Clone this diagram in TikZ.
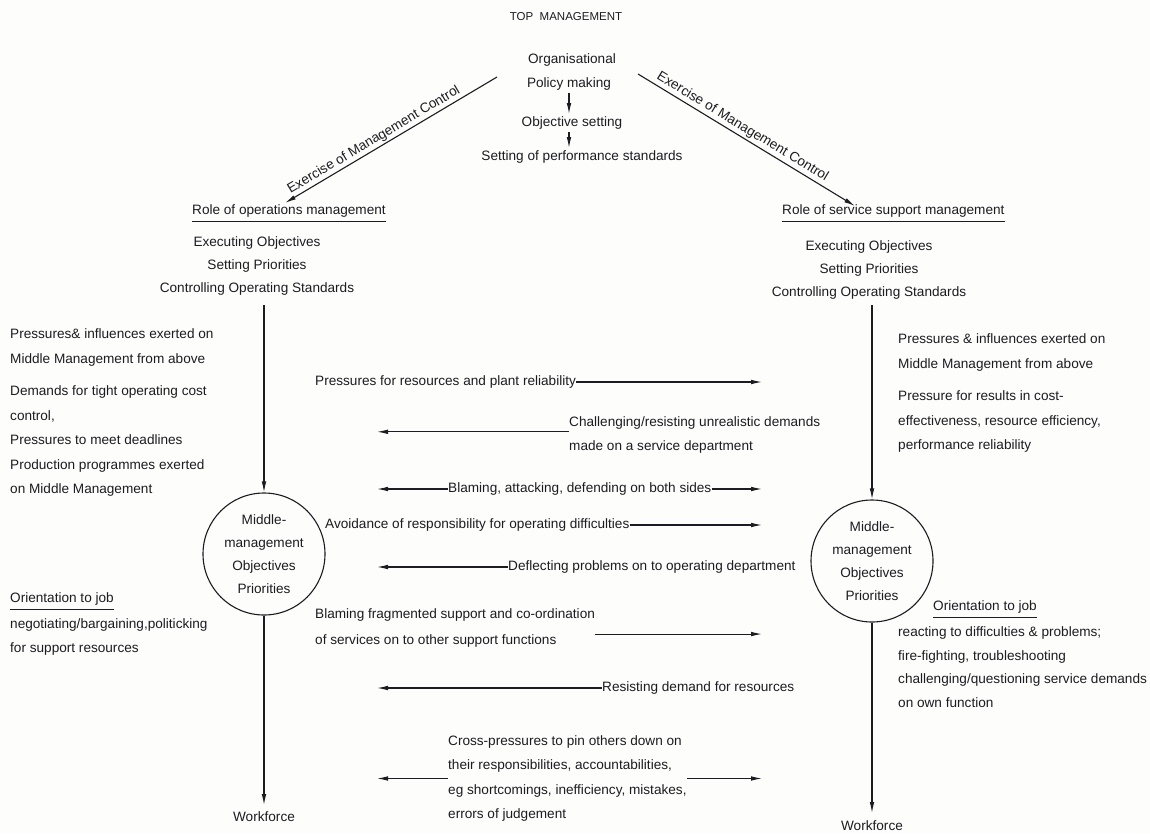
\documentclass[tikz,border=0pt]{standalone}
\usepackage{fontspec}
\setmainfont{Liberation Sans}
\usetikzlibrary{arrows.meta}
\definecolor{ink}{RGB}{28,28,34}
\definecolor{paper}{RGB}{253,253,251}
\begin{document}
\begin{tikzpicture}[x=1pt,y=-1pt,
  every node/.style={inner sep=0pt, text=ink, font=\fontsize{13.6}{24.5}\selectfont},
  lbl/.style={text height=10pt, text depth=3pt},
  para/.style={align=left, anchor=north west},
  conn/.style={draw=ink, line width=1.1pt, -{Latex[length=11pt,width=4.6pt]}},
  uline/.style={draw=ink, line width=1pt},
  mm/.style={circle, draw=ink, line width=1.1pt, minimum size=122pt, align=center,
             font=\fontsize{13.6}{23}\selectfont},
  roles/.style={align=center, font=\fontsize{13.6}{23}\selectfont}
]
% page
\fill[paper] (0,0) rectangle (1150,833);
\useasboundingbox (0,0) rectangle (1150,833);

% ---- top management ----
\node[lbl, font=\fontsize{11.5}{14}\selectfont] (top) at (566,17) {TOP\ \ MANAGEMENT};
\node[lbl, outer sep=2pt] (org) at (572,60) {Organisational};
\node[lbl, outer sep=2pt] (pol) at (569,84) {Policy making};
\node[lbl, outer sep=2.5pt] (obj) at (572,123) {Objective setting};
\node[lbl, outer sep=2.5pt] (std) at (582,157) {Setting of performance standards};
\draw[conn] (pol.south) -- (pol.south |- obj.north);
\draw[conn] (pol.south |- obj.south) -- (pol.south |- std.north);

% ---- exercise of management control ----
\coordinate (lstart) at (497,77);
\coordinate (ltip) at (285,203);
\coordinate (rstart) at (638,74);
\coordinate (rtip) at (855,206);
\draw[conn] (lstart) -- (ltip);
\path (ltip) -- (lstart) node[lbl, sloped, above=2pt, pos=0.44] (lexc) {Exercise of Management Control};
\draw[conn] (rstart) -- (rtip) node[lbl, sloped, above=2pt, pos=0.46] (rexc) {Exercise of Management Control};

% ---- roles ----
\node[lbl, anchor=west] (rolel) at (192,211) {Role of operations management};
\draw[uline] ([yshift=-4pt]rolel.south west) -- ([yshift=-4pt]rolel.south east);
\node[lbl, anchor=west] (roler) at (782,211) {Role of service support management};
\draw[uline] ([yshift=-4pt]roler.south west) -- ([yshift=-4pt]roler.south east);

\node[roles] (lroles) at (257,266) {Executing Objectives\\Setting Priorities\\Controlling Operating Standards};
\node[roles] (rroles) at (869,270) {Executing Objectives\\Setting Priorities\\Controlling Operating Standards};

% ---- middle management circles ----
\node[mm] (lcirc) at (264,554) {Middle-\\management\\Objectives\\Priorities};
\node[mm] (rcirc) at (872,561) {Middle-\\management\\Objectives\\Priorities};
\coordinate (ltop) at (264,305);
\coordinate (rtop) at (872,305);
\draw[conn] (ltop) -- (lcirc);
\draw[conn] (rtop) -- (rcirc);

\node[lbl, outer sep=6.5pt] (lwork) at (264,818) {Workforce};
\node[lbl, outer sep=7.5pt] (rwork) at (872,827) {Workforce};
\draw[conn] (lcirc.south) -- (lwork.north);
\draw[conn] (rcirc.south) -- (rwork.north);

% ---- left column ----
\node[para] (lpa) at (10,328.5) {Pressures\& influences exerted on\\Middle Management from above};
\node[para] (lpb) at (10,385.5) {Demands for tight operating cost\\control,\\Pressures to meet deadlines\\Production programmes exerted\\on Middle Management};
\node[lbl, anchor=west] (lori) at (10,599) {Orientation to job};
\draw[uline] ([yshift=-3.5pt]lori.south west) -- ([yshift=-3.5pt]lori.south east);
\node[para, font=\fontsize{13.6}{24}\selectfont] (ljob) at (10,618.5) {negotiating/bargaining,politicking\\for support resources};

% ---- right column ----
\node[para] (rpa) at (898,333.5) {Pressures \& influences exerted on\\Middle Management from above};
\node[para] (rpb) at (898,390.5) {Pressure for results in cost-\\effectiveness, resource efficiency,\\performance reliability};
\node[lbl, anchor=west] (rori) at (933,607) {Orientation to job};
\draw[uline] ([yshift=-3.5pt]rori.south west) -- ([yshift=-3.5pt]rori.south east);
\node[para, font=\fontsize{13.6}{23.7}\selectfont] (rjob) at (898,626.5) {reacting to difficulties \& problems;\\fire-fighting, troubleshooting\\challenging/questioning service demands\\on own function};

% ---- cross pressures between the two departments ----
\coordinate (L) at (377,0);
\coordinate (R) at (762,0);

\node[lbl, anchor=west] (c1) at (315,382) {Pressures for resources and plant reliability};
\draw[conn] (c1.east) -- (c1.east -| R);

\node[para, font=\fontsize{13.6}{23.5}\selectfont] (c2) at (569,416.5) {Challenging/resisting unrealistic demands\\made on a service department};
\draw[conn] ([yshift=3pt]c2.west) -- ([yshift=3pt]c2.west -| L);

\node[lbl, anchor=west] (c3) at (448,489) {Blaming, attacking, defending on both sides};
\draw[conn] (c3.west) -- (c3.west -| L);
\draw[conn] (c3.east) -- (c3.east -| R);

\node[lbl, anchor=west] (c4) at (325,525) {Avoidance of responsibility for operating difficulties};
\draw[conn] (c4.east) -- (c4.east -| R);

\node[lbl, anchor=west] (c5) at (508,567) {Deflecting problems on to operating department};
\draw[conn] (c5.west) -- (c5.west -| L);

\node[para, font=\fontsize{13.6}{26}\selectfont] (c6) at (315,608.5) {Blaming fragmented support and co-ordination\\of services on to other support functions};
\draw[conn] ([yshift=-6pt]c6.east) -- ([yshift=-6pt]c6.east -| R);

\node[lbl, anchor=west] (c7) at (602,688) {Resisting demand for resources};
\draw[conn] (c7.west) -- (c7.west -| L);

\node[para, font=\fontsize{13.6}{24.3}\selectfont] (c8) at (448,735.5) {Cross-pressures to pin others down on\\their responsibilities, accountabilities,\\eg shortcomings, inefficiency, mistakes,\\errors of judgement};
\draw[conn] (c8.west) -- (c8.west -| L);
\draw[conn] (c8.east) -- (c8.east -| R);
\end{tikzpicture}
\end{document}
